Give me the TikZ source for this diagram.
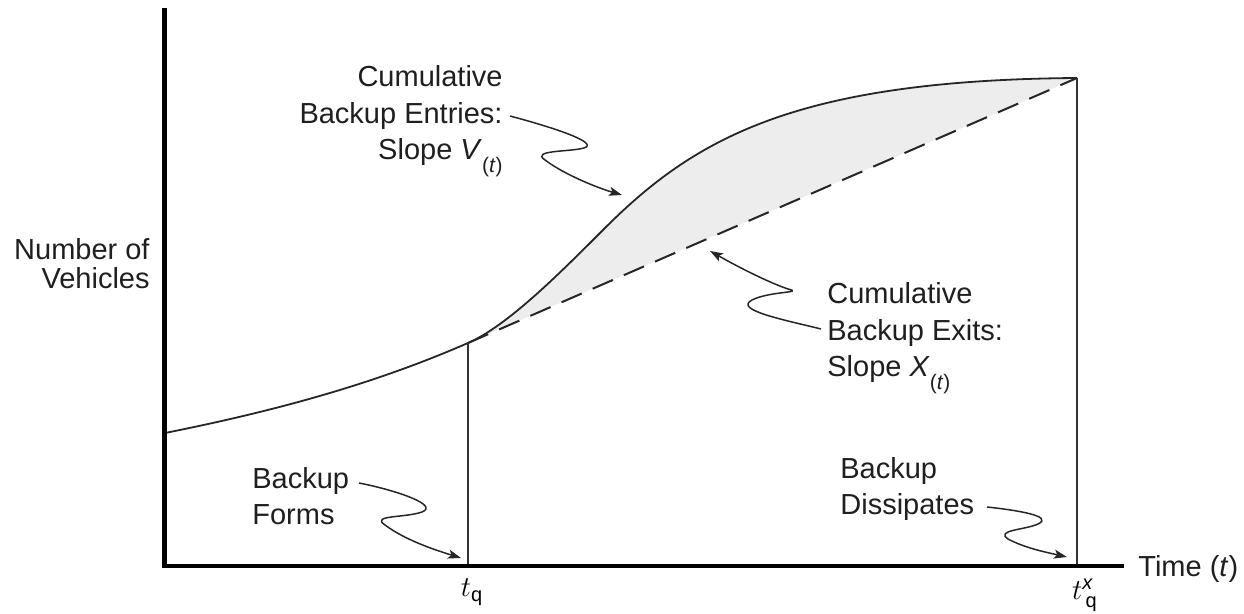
\documentclass[tikz,border=0pt]{standalone}
\usepackage{fontspec}
\setmainfont{Liberation Sans}
\usetikzlibrary{arrows.meta}
% lowered, smaller subscript for the slope labels
\newcommand{\lowsub}[1]{\raisebox{-0.42em}{\fontsize{10.5}{10.5}\selectfont #1}}
\newcommand{\smallsf}[1]{\mbox{\fontsize{10}{10}\selectfont #1}}
\begin{document}
\begin{tikzpicture}[x=0.5pt,y=-0.5pt,
  lbl/.style={font=\fontsize{14.5}{18.3}\selectfont, inner sep=0pt, text=black!88},
  leader/.style={line width=0.75pt, draw=black!85, -{Stealth[length=6.5pt,width=4.5pt,inset=1.5pt]}},
  axis/.style={line width=2.4pt, draw=black},
  curve/.style={line width=0.9pt, draw=black!85},
  dropline/.style={line width=0.9pt, draw=black!80},
  capacity/.style={line width=1pt, draw=black!85, dash pattern=on 11pt off 6pt},
  queue/.style={fill=black!7},
  ticklbl/.style={inner sep=0pt, font=\fontsize{14}{14}\selectfont}]
\useasboundingbox (0,0) rectangle (1244,614);

% key points
\coordinate (o)    at (164.5,566);
\coordinate (ytop) at (164.5,8);
\coordinate (xend) at (1124,566);
\coordinate (c0)   at (165,433);
\coordinate (tq)   at (468,343);
\coordinate (tx)   at (1077,78);
\coordinate (tqb)  at (468,566);
\coordinate (txb)  at (1077,566);
\coordinate (infl) at (605,228);

% area between cumulative entries and exits
\fill[queue] (tq) .. controls (508,325.5) and (560,273) .. (infl)
  .. controls (695,138) and (797,80) .. (tx) -- cycle;

% cumulative entries curve
\draw[curve] (c0) .. controls (265,413) and (368,386.7) .. (tq)
  .. controls (508,325.5) and (560,273) .. (infl)
  .. controls (695,138) and (797,80) .. (tx);

% cumulative exits (dashed)
\draw[capacity] (tq) -- (tx);

% drop lines to the time axis
\draw[dropline] (tq) -- (tqb);
\draw[dropline] (tx) -- (txb);

% axes
\draw[axis] (ytop) -- (o) -- (xend);

% labels (base anchor = baseline of the last line)
\node[lbl, align=right, anchor=base east, font=\fontsize{14.5}{14.6}\selectfont] (nv) at (150,289) {Number of\\Vehicles};
\node[lbl, align=right, anchor=base east] (ent) at (503,160) {Cumulative\\Backup Entries:\\Slope \textit{V}\lowsub{(\textit{t})}};
\node[lbl, align=left, anchor=base west] (exi) at (827,377) {Cumulative\\Backup Exits:\\Slope \textit{X}\lowsub{(\textit{t})}};
\node[lbl, align=left, anchor=base west] (frm) at (252,525) {Backup\\Forms};
\node[lbl, align=left, anchor=base west] (dis) at (840,515) {Backup\\Dissipates};
\node[lbl, anchor=base west] (time) at (1138,577) {Time (\textit{t})};
\node[ticklbl, anchor=base] (tql) at (472,597) {$t_{\smallsf{q}}$};
\node[ticklbl, anchor=base] (txl) at (1085,600) {$t^{\smallsf{\itshape x}}_{\,\smallsf{q}}$};

% leader ends
\coordinate (entS) at (510,116);  \coordinate (entT) at (622,195);
\coordinate (exiS) at (821,329);  \coordinate (exiT) at (710,251);
\coordinate (frmS) at (359,483);  \coordinate (frmT) at (461,558);
\coordinate (disS) at (987,507);  \coordinate (disT) at (1067,557);

% squiggle leaders
\draw[leader] (entS) .. controls (555,128) and (600,143) .. (584,148)
  .. controls (570,152) and (530,150) .. (545,160)
  .. controls (565,175) and (598,188) .. (entT);
\draw[leader] (exiS) .. controls (785,320) and (733,310) .. (752,300)
  .. controls (770,291) and (805,293) .. (788,289)
  .. controls (770,283) and (740,268) .. (exiT);
\draw[leader] (frmS) .. controls (395,490) and (440,505) .. (422,512)
  .. controls (405,518) and (370,515) .. (385,525)
  .. controls (405,540) and (435,550) .. (frmT);
\draw[leader] (disS) .. controls (1015,510) and (1055,516) .. (1038,524)
  .. controls (1025,530) and (995,530) .. (1008,539)
  .. controls (1025,548) and (1045,552) .. (disT);
\end{tikzpicture}
\end{document}
